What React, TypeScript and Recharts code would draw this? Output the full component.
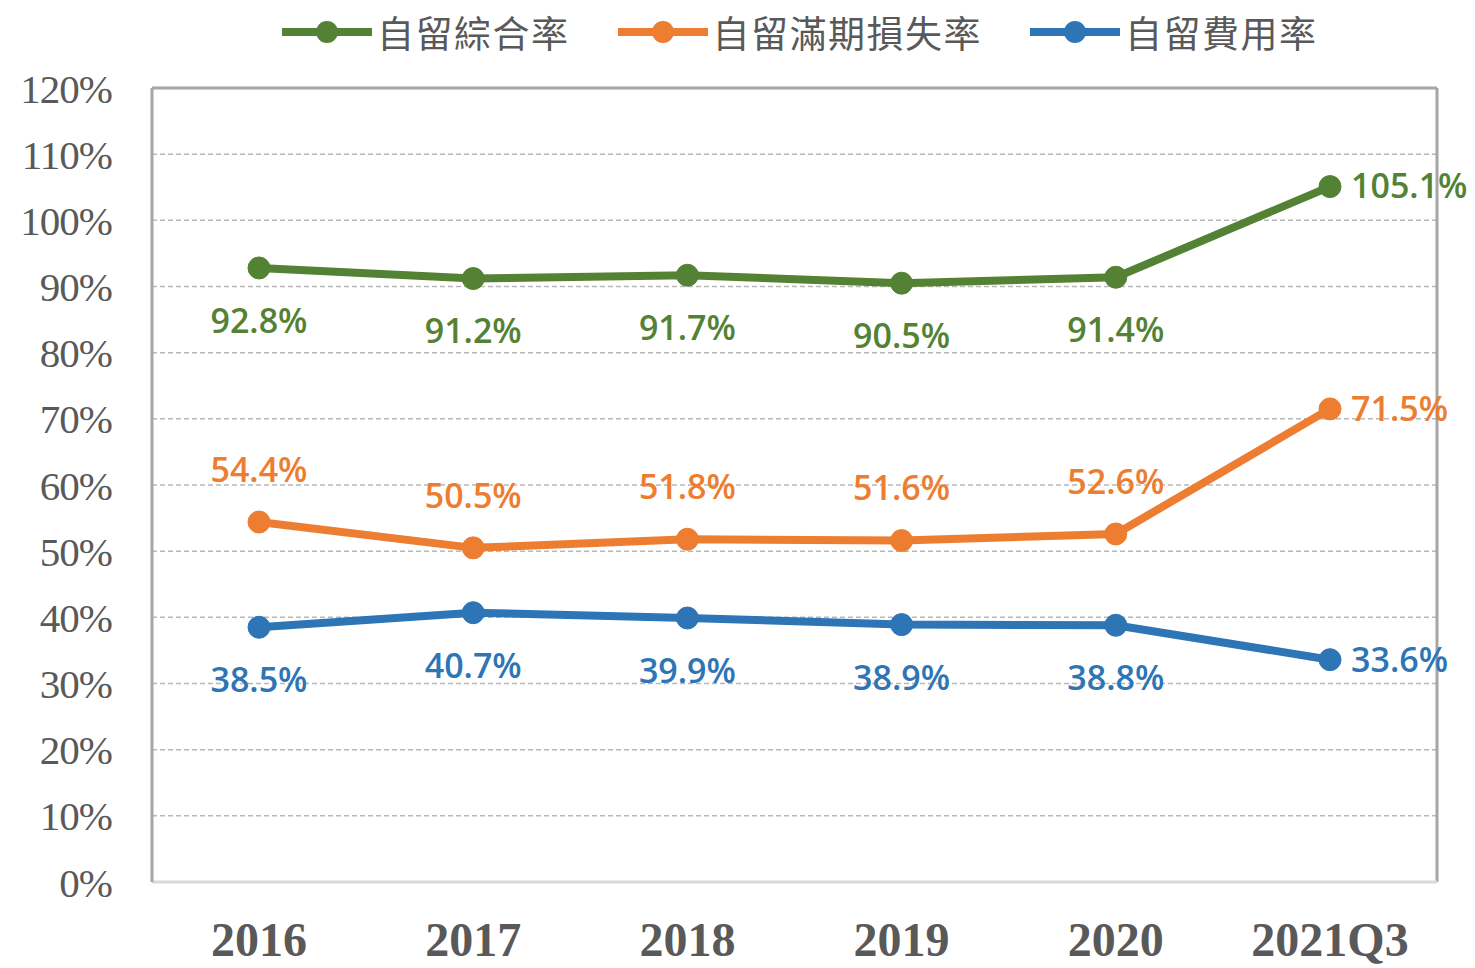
import React from 'react';
import {
  LineChart,
  Line,
  XAxis,
  YAxis,
  CartesianGrid,
  ReferenceLine,
  LabelList,
} from 'recharts';

const YEARS = ['2016', '2017', '2018', '2019', '2020', '2021Q3'];
const COMBINED = [92.8, 91.2, 91.7, 90.5, 91.4, 105.1];
const LOSS = [54.4, 50.5, 51.8, 51.6, 52.6, 71.5];
const EXPENSE = [38.5, 40.7, 39.9, 38.9, 38.8, 33.6];
const Y_TICKS = [0, 10, 20, 30, 40, 50, 60, 70, 80, 90, 100, 110, 120];

const SERIES = [
  { key: 'combined', name: '自留綜合率', color: '#548235', values: COMBINED, place: 'below' },
  { key: 'loss', name: '自留滿期損失率', color: '#ED7D31', values: LOSS, place: 'above' },
  { key: 'expense', name: '自留費用率', color: '#2E75B6', values: EXPENSE, place: 'below' },
];

const data = YEARS.map((year, i) => ({
  year,
  combined: COMBINED[i],
  loss: LOSS[i],
  expense: EXPENSE[i],
}));

const LABEL_FONT = '"Open Sans", "DejaVu Sans", sans-serif';
const TICK_GRAY = '#595959';

const makeLabel = (color: string, place: string) => (props: any) => {
  const { x, y, value, index } = props;
  const last = index === YEARS.length - 1;
  const text = `${Number(value).toFixed(1)}%`;
  if (last) {
    return (
      <text x={x + 21} y={y} dy="0.35em" textAnchor="start" fill={color}
        fontFamily={LABEL_FONT} fontSize={34} fontWeight={600}>
        {text}
      </text>
    );
  }
  const dy = place === 'below' ? 53 : -52;
  return (
    <text x={x} y={y + dy} dy="0.35em" textAnchor="middle" fill={color}
      fontFamily={LABEL_FONT} fontSize={34} fontWeight={600}>
      {text}
    </text>
  );
};

const LegendRow = () => (
  <div style={{ position: 'absolute', left: 282, top: 10, display: 'flex', alignItems: 'center' }}>
    {SERIES.map((s, i) => (
      <div key={s.key} style={{ display: 'flex', alignItems: 'center', marginRight: i < SERIES.length - 1 ? 48 : 0 }}>
        <svg width={90} height={44}>
          <line x1={1} y1={22} x2={89} y2={22} stroke={s.color} strokeWidth={8} strokeLinecap="round" />
          <circle cx={45} cy={22} r={11} fill={s.color} />
        </svg>
        <span style={{ marginLeft: 5, fontFamily: '"Noto Sans CJK TC", sans-serif', fontSize: 37, color: TICK_GRAY, letterSpacing: 1.5, lineHeight: '44px' }}>
          {s.name}
        </span>
      </div>
    ))}
  </div>
);

export default function App() {
  return (
    <div style={{ position: 'absolute', left: 0, top: 0, width: 1475, height: 968, background: '#fff' }}>
      <LegendRow />
      <div style={{ position: 'absolute', left: 8, top: 8 }}>
        <LineChart width={1467} height={960} data={data} margin={{ top: 80, right: 38, bottom: 0, left: 0 }}>
          <CartesianGrid vertical={false} stroke="#b8b8b8" strokeDasharray="5 3" strokeWidth={1.5} yAxisId="l" />
          <CartesianGrid horizontal={false} verticalPoints={[1429]} stroke="#a6a6a6" strokeWidth={3} yAxisId="l" />
          <XAxis
            dataKey="year"
            height={86}
            padding={{ left: 107, right: 107 }}
            tickLine={false}
            tickSize={0}
            tickMargin={40}
            axisLine={{ stroke: '#d9d9d9', strokeWidth: 3 }}
            tick={{ fill: TICK_GRAY, fontSize: 48, fontWeight: 700, fontFamily: '"Liberation Serif", serif' }}
            interval={0}
          />
          <YAxis
            yAxisId="l"
            width={144}
            domain={[0, 120]}
            ticks={Y_TICKS}
            tickFormatter={(v: number) => `${v}%`}
            tickLine={false}
            tickSize={0}
            tickMargin={40}
            axisLine={{ stroke: '#a6a6a6', strokeWidth: 3 }}
            tick={{ fill: TICK_GRAY, fontSize: 41, fontFamily: '"Liberation Serif", serif', letterSpacing: -1 }}
            interval={0}
          />
          <ReferenceLine yAxisId="l" y={120} stroke="#a6a6a6" strokeWidth={3} />
          {SERIES.map((s) => (
            <Line
              key={s.key}
              yAxisId="l"
              dataKey={s.key}
              name={s.name}
              stroke={s.color}
              strokeWidth={8}
              dot={{ r: 11, fill: s.color, stroke: s.color, strokeWidth: 1 }}
              activeDot={false}
              isAnimationActive={false}
            >
              <LabelList dataKey={s.key} content={makeLabel(s.color, s.place)} />
            </Line>
          ))}
        </LineChart>
      </div>
    </div>
  );
}
